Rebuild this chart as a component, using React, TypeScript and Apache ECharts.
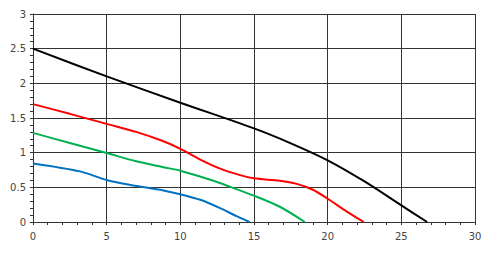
import React, { useEffect, useRef } from "react";
import * as echarts from "echarts";

const blackCurve: [number, number][] = [
  [0, 2.5], [5, 2.1], [10, 1.72], [15, 1.35], [17.5, 1.135], [20, 0.89],
  [22.5, 0.585], [25, 0.24], [26.75, 0],
];
const redCurve: [number, number][] = [
  [0, 1.7], [2.5, 1.56], [5, 1.415], [7, 1.3], [8.85, 1.165], [10, 1.055],
  [11.35, 0.9], [12.7, 0.77], [14, 0.68], [15, 0.63], [16.75, 0.595], [17.9, 0.55],
  [19, 0.465], [20, 0.335], [21.3, 0.15], [22.45, 0],
];
const greenCurve: [number, number][] = [
  [0, 1.285], [2.5, 1.14], [5, 0.995], [7, 0.875], [8.85, 0.79], [10, 0.74],
  [12.25, 0.595], [13.35, 0.51], [15, 0.38], [16.75, 0.22], [18.45, 0],
];
const blueCurve: [number, number][] = [
  [0, 0.845], [3.2, 0.73], [5, 0.605], [6.6, 0.535], [8.85, 0.455], [10, 0.4],
  [11.35, 0.32], [12.7, 0.2], [13.85, 0.08], [14.7, 0],
];

const seriesData = [
  { name: "black", data: blackCurve, color: "#000000" },
  { name: "red", data: redCurve, color: "#ff0000" },
  { name: "green", data: greenCurve, color: "#00b050" },
  { name: "blue", data: blueCurve, color: "#0070c0" },
];

export default function App() {
  const ref = useRef<HTMLDivElement>(null);
  useEffect(() => {
    if (!ref.current) return;
    const chart = echarts.init(ref.current, undefined, { renderer: "svg" });
    const axisCommon = {
      type: "value" as const,
      axisLine: { show: true, lineStyle: { color: "#333", width: 1 } },
      axisTick: { show: true, inside: false, length: 3, lineStyle: { color: "#333" } },
      minorTick: { show: true, splitNumber: 5, length: 3, lineStyle: { color: "#333" } },
      splitLine: { show: true, lineStyle: { color: "#333", width: 1 } },
      axisLabel: { color: "#444", fontSize: 10, fontFamily: "DejaVu Sans" },
    };
    chart.setOption({
      animation: false,
      grid: { left: 33, right: 15, top: 14, bottom: 33, containLabel: false },
      xAxis: {
        ...axisCommon,
        min: 0,
        max: 30,
        interval: 5,
        axisLabel: { ...axisCommon.axisLabel, margin: 9 },
      },
      yAxis: {
        ...axisCommon,
        min: 0,
        max: 3,
        interval: 0.5,
        axisLabel: { ...axisCommon.axisLabel, margin: 7 },
      },
      series: seriesData.map((s) => ({
        type: "line",
        name: s.name,
        data: s.data,
        smooth: 0.3,
        showSymbol: false,
        symbol: "none",
        lineStyle: { color: s.color, width: 2 },
        itemStyle: { color: s.color },
      })),
    });
    return () => chart.dispose();
  }, []);
  return <div ref={ref} style={{ width: 490, height: 255, position: "absolute", left: 0, top: 0 }} />;
}
